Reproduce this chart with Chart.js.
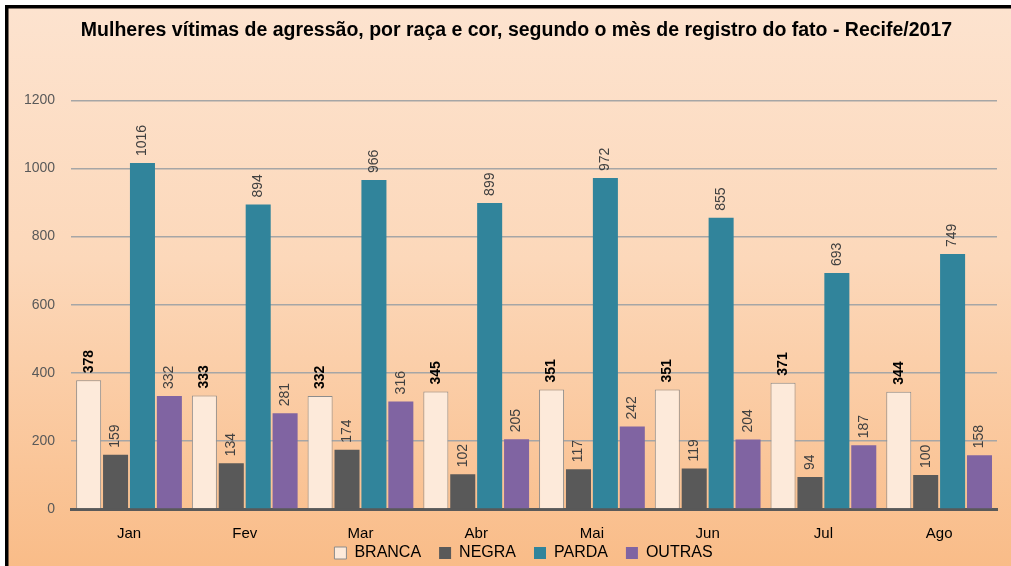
<!DOCTYPE html>
<html>
<head>
<meta charset="utf-8">
<script src="https://cdn.jsdelivr.net/npm/chart.js@4/dist/chart.umd.min.js"></script>
<style>
  html, body { margin: 0; padding: 0; background: #fff; }
  #wrap { width: 1011px; height: 566px; }
</style>
</head>
<body>
<div id="wrap"><canvas id="grafico" width="1011" height="566"></canvas></div>
<script>
var meses = ["Jan", "Fev", "Mar", "Abr", "Mai", "Jun", "Jul", "Ago"];
var branca = [378, 333, 332, 345, 351, 351, 371, 344];
var negra = [159, 134, 174, 102, 117, 119, 94, 100];
var parda = [1016, 894, 966, 899, 972, 855, 693, 749];
var outras = [332, 281, 316, 205, 242, 204, 187, 158];
var yTicks = [0, 200, 400, 600, 800, 1000, 1200];

var fonte = "'Liberation Sans', 'DejaVu Sans', sans-serif";

// fundo em degrade + moldura preta
var fundo = {
	id: 'fundo',
	beforeDraw: function(chart) {
		var ctx = chart.ctx;
		var w = chart.width, h = chart.height;
		ctx.save();
		ctx.fillStyle = '#ffffff';
		ctx.fillRect(0, 0, w, h);
		var g = ctx.createLinearGradient(0, 8, 0, h);
		g.addColorStop(0, '#fde3cf');
		g.addColorStop(0.45, '#fcd8ba');
		g.addColorStop(1, '#f9bc88');
		ctx.fillStyle = g;
		ctx.fillRect(8, 8, w - 8, h - 8);
		ctx.fillStyle = '#000000';
		ctx.fillRect(5, 5, w - 5, 3.5);
		ctx.fillRect(5, 5, 3.5, h - 5);
		ctx.restore();
	}
};

// legenda mais perto dos meses, titulo um pouco a direita
var ajuste = {
	id: 'ajuste',
	afterLayout: function(chart) {
		var lg = chart.legend;
		if (lg) {
			lg.top -= 32; lg.bottom -= 32;
			lg.left += 21; lg.right += 21;
		}
		var t = chart.titleBlock;
		if (t) {
			t.left += 14; t.right += 14;
		}
	}
};

// rotulos verticais acima das barras
var rotulos = {
	id: 'rotulos',
	afterDatasetsDraw: function(chart) {
		var ctx = chart.ctx;
		chart.data.datasets.forEach(function(ds, i) {
			var meta = chart.getDatasetMeta(i);
			meta.data.forEach(function(bar, j) {
				ctx.save();
				ctx.translate(bar.x, bar.y - 7);
				ctx.rotate(-Math.PI / 2);
				ctx.textAlign = 'left';
				ctx.textBaseline = 'middle';
				if (i == 0) {
					ctx.font = 'bold 14px ' + fonte;
					ctx.fillStyle = '#000000';
				} else {
					ctx.font = '14px ' + fonte;
					ctx.fillStyle = '#404040';
				}
				ctx.fillText(ds.data[j], 0, 0);
				ctx.restore();
			});
		});
	}
};

var ctx = document.getElementById('grafico');
var chart = new Chart(ctx, {
	type: 'bar',
	data: {
		labels: meses,
		datasets: [
			{ label: 'BRANCA', data: branca, backgroundColor: '#fdeada', borderColor: '#8c8c8c', borderWidth: 1 },
			{ label: 'NEGRA', data: negra, backgroundColor: '#595959', borderColor: '#595959', borderWidth: 0 },
			{ label: 'PARDA', data: parda, backgroundColor: '#31849b', borderColor: '#31849b', borderWidth: 0 },
			{ label: 'OUTRAS', data: outras, backgroundColor: '#8064a2', borderColor: '#8064a2', borderWidth: 0 }
		]
	},
	options: {
		responsive: false,
		animation: false,
		datasets: {
			bar: { categoryPercentage: 0.93, barPercentage: 0.93 }
		},
		layout: { padding: { left: 8, right: 14, top: 10, bottom: -37 } },
		plugins: {
			title: {
				display: true,
				text: 'Mulheres vítimas de agressão, por raça e cor, segundo o mès de registro do fato - Recife/2017',
				color: '#000000',
				font: { family: fonte, size: 19.5, weight: 'bold' },
				padding: { top: 9, bottom: 58 }
			},
			legend: {
				position: 'bottom',
				labels: {
					color: '#000000',
					font: { family: fonte, size: 16 },
					boxWidth: 12,
					boxHeight: 12,
					padding: 18
				}
			},
			tooltip: { enabled: false }
		},
		scales: {
			x: {
				grid: { display: false, drawTicks: false },
				border: { display: true, color: '#595959', width: 3 },
				ticks: { color: '#000000', font: { family: fonte, size: 15 }, padding: 16 }
			},
			y: {
				min: 0,
				max: 1200,
				afterBuildTicks: function(axis) {
					axis.ticks = yTicks.map(function(v) { return { value: v }; });
				},
				grid: { color: '#a6a6a6', lineWidth: 1.5, drawTicks: false },
				border: { display: false },
				ticks: {
					color: '#595959',
					font: { family: fonte, size: 14 },
					padding: 16,
					callback: function(v) { return String(v); }
				}
			}
		}
	},
	plugins: [fundo, ajuste, rotulos]
});
</script>
</body>
</html>
